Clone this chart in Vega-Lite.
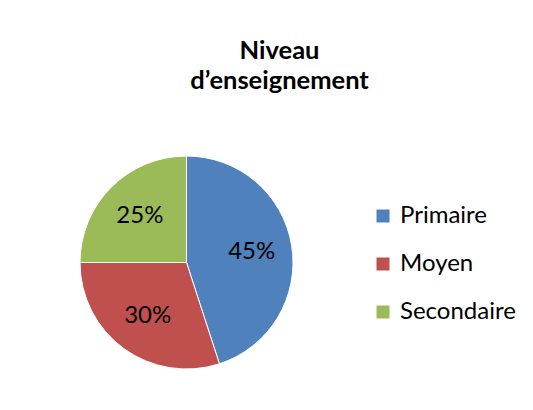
{
  "$schema": "https://vega.github.io/schema/vega-lite/v6.json",
  "autosize": "none",
  "width": 213,
  "height": 213,
  "padding": {"left": 80, "top": 156, "right": 240, "bottom": 41},
  "background": "white",
  "config": {"view": {"stroke": null}, "font": "Lato"},
  "title": {
    "text": ["Niveau", "d’enseignement"],
    "font": "Lato",
    "fontSize": 25.5,
    "fontWeight": "bold",
    "color": "#000000",
    "anchor": "middle",
    "dx": 93,
    "baseline": "bottom",
    "lineHeight": 30,
    "offset": 35
  },
  "data": {
    "values": [
      {"niveau": "Primaire", "part": 0.45, "rang": 1},
      {"niveau": "Moyen", "part": 0.30, "rang": 2},
      {"niveau": "Secondaire", "part": 0.25, "rang": 3}
    ]
  },
  "encoding": {
    "theta": {"field": "part", "type": "quantitative", "stack": true},
    "order": {"field": "rang", "type": "quantitative"},
    "color": {
      "field": "niveau",
      "type": "nominal",
      "sort": ["Primaire", "Moyen", "Secondaire"],
      "scale": {"domain": ["Primaire", "Moyen", "Secondaire"], "range": ["#4F81BD", "#C0504D", "#9BBB59"]},
      "legend": {
        "title": null,
        "orient": "none",
        "legendX": 291,
        "legendY": 48,
        "padding": 0,
        "symbolType": "square",
        "symbolSize": 169,
        "symbolStrokeWidth": 0,
        "symbolOpacity": 1,
        "labelFont": "Lato",
        "labelFontSize": 24,
        "labelColor": "#000000",
        "labelOffset": 5,
        "rowPadding": 24
      }
    }
  },
  "layer": [
    {"mark": {"type": "arc", "outerRadius": 106.5, "stroke": "white", "strokeWidth": 1}},
    {
      "mark": {"type": "text", "radius": 66, "font": "Lato", "fontSize": 24, "color": "#000000"},
      "encoding": {
        "text": {"field": "part", "type": "quantitative", "format": ".0%"},
        "color": {"value": "#000000"}
      }
    }
  ]
}
